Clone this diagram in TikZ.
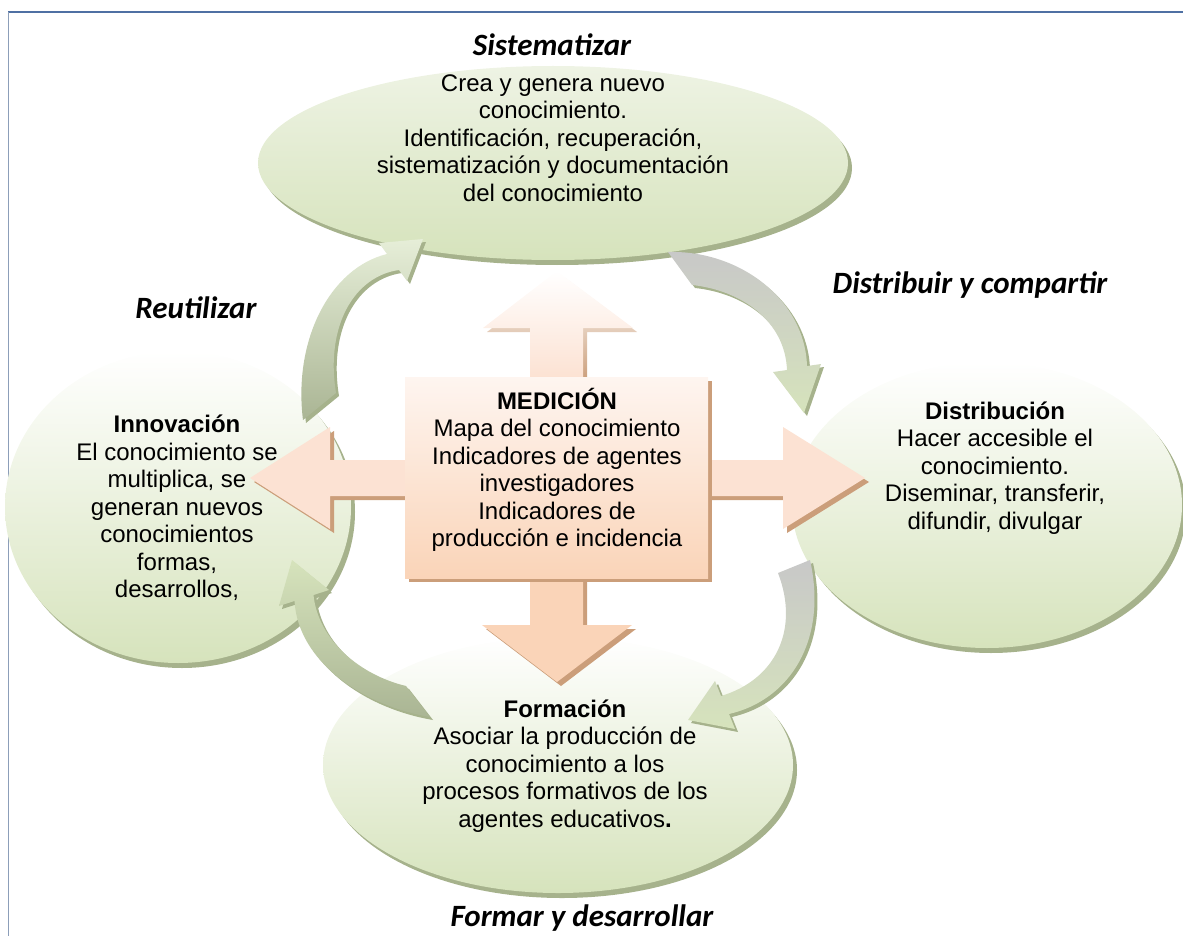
\documentclass[tikz,border=0pt]{standalone}
\usepackage{fontspec}
\setmainfont{Liberation Sans}
\newfontfamily\phasefont{Carlito}
\usetikzlibrary{shapes.geometric,shadows}
\definecolor{leafGreen}{RGB}{214,227,188}
\definecolor{leafShadow}{RGB}{166,178,140}
\definecolor{sisTop}{RGB}{238,243,228}
\definecolor{darkLeaf}{RGB}{170,181,148}
\definecolor{paleLeaf}{RGB}{230,238,216}
\definecolor{greyArrow}{RGB}{200,200,200}
\definecolor{peachTop}{RGB}{254,245,240}
\definecolor{peachBottom}{RGB}{250,212,184}
\definecolor{peachArm}{RGB}{252,226,211}
\definecolor{peachShadow}{RGB}{203,158,122}
\definecolor{frameBlue}{RGB}{79,112,163}
\definecolor{frameGrey}{RGB}{140,158,185}

\begin{document}
\begin{tikzpicture}[x=1pt,y=-1pt,
  bubble/.style={ellipse,inner sep=0pt,top color=white,bottom color=leafGreen,
    general shadow={fill=leafShadow,shadow xshift=4pt,shadow yshift=-5pt}},
  cyclearrow/.style={general shadow={fill=leafShadow,shadow xshift=3pt,shadow yshift=-3pt}},
  crossarm/.style={fill=peachArm,
    general shadow={fill=peachShadow,shadow xshift=4pt,shadow yshift=-4pt}},
  medbox/.style={rectangle,inner sep=0pt,top color=peachTop,bottom color=peachBottom,
    general shadow={fill=peachShadow,shadow xshift=4pt,shadow yshift=-4pt}},
  bodytext/.style={align=center,font=\fontsize{24}{27.5}\selectfont},
  phasetext/.style={font=\phasefont\fontsize{31}{36}\selectfont\bfseries\itshape}]
%
  \useasboundingbox (0,0) rectangle (1183,936) ;
  \draw [frameBlue,line width=1.2pt] (8,12) -- (1183,12) ;
  \draw [frameGrey,line width=1pt] (8,12) -- (8,936) ;
%
  \node [bubble,top color=sisTop,minimum width=590pt,minimum height=194pt] (sisE) at (553,163) {} ;
  \node [bubble,minimum width=346pt,minimum height=312pt] (innE) at (178,507) {} ;
  \node [bubble,minimum width=390pt,minimum height=286pt] (disE) at (987,505) {} ;
  \node [bubble,minimum width=470pt,minimum height=256pt] (forE) at (558,765) {} ;
%
  \shade [cyclearrow,top color=paleLeaf,bottom color=darkLeaf]
    (303,420) .. controls (293,340) and (330,268) .. (387,254) -- (379,243) -- (423,239)
    -- (407,281) -- (399,270) .. controls (355,276) and (325,325) .. (336,393) -- cycle ;
  \shade [cyclearrow,top color=greyArrow,bottom color=leafGreen]
    (668,252) .. controls (740,250) and (805,300) .. (807,366) -- (821,364) -- (804,413)
    -- (773,372) -- (787,370) .. controls (785,320) and (740,290) .. (692,285) -- cycle ;
  \shade [cyclearrow,top color=greyArrow,bottom color=leafGreen]
    (810,560) .. controls (828,640) and (790,700) .. (729,714) -- (735,729) -- (688,720)
    -- (715,681) -- (721,696) .. controls (775,680) and (800,630) .. (778,573) -- cycle ;
  \shade [cyclearrow,top color=leafGreen,bottom color=darkLeaf]
    (430,717) .. controls (360,705) and (298,660) .. (294.5,601) -- (279,606) -- (292,560)
    -- (329,590) -- (313.5,595) .. controls (318,640) and (360,675) .. (406,686) -- cycle ;
%
  \shade [top color=white,bottom color=peachShadow,shift={(4,4)}] (530,377) -- (530,328) -- (483,328)
    -- (557,271) -- (633,328) -- (583,328) -- (583,377) -- cycle ;
  \shade [top color=white,bottom color=peachArm] (530,377) -- (530,328) -- (483,328)
    -- (557,271) -- (633,328) -- (583,328) -- (583,377) -- cycle ;
  \fill [crossarm,fill=peachBottom] (530,578) -- (530,625) -- (482,625) -- (557,682)
    -- (632,625) -- (583,625) -- (583,578) -- cycle ;
  \fill [crossarm] (405,460) -- (330,460) -- (330,427) -- (250,478)
    -- (330,529) -- (330,496) -- (405,496) -- cycle ;
  \fill [crossarm] (708,460) -- (783,460) -- (783,427) -- (865,478)
    -- (783,529) -- (783,496) -- (708,496) -- cycle ;
  \node [medbox,minimum width=303pt,minimum height=201pt] (med) at (556.5,477.5) {} ;
%
  \node [bodytext] (sisT) at (553,138) {Crea y genera nuevo\\conocimiento.\\Identificación, recuperación,\\sistematización y documentación\\del conocimiento} ;
  \node [bodytext] (medT) at (557,470) {\textbf{MEDICIÓN}\\Mapa del conocimiento\\Indicadores de agentes\\investigadores\\Indicadores de\\producción e incidencia} ;
  \node [bodytext] (innT) at (177,508) {\textbf{Innovación}\\El conocimiento se\\multiplica, se\\generan nuevos\\conocimientos\\formas,\\desarrollos,} ;
  \node [bodytext] (disT) at (995,468) {\textbf{Distribución}\\Hacer accesible el\\conocimiento.\\Diseminar, transferir,\\difundir, divulgar} ;
  \node [bodytext] (forT) at (565,766) {\textbf{Formación}\\Asociar la producción de\\conocimiento a los\\procesos formativos de los\\agentes educativos\textbf{.}} ;
%
  \node [phasetext] (sisP) at (552,45) {Sistematizar} ;
  \node [phasetext] (reuP) at (196,308) {Reutilizar} ;
  \node [phasetext] (disP) at (970,285) {Distribuir y compartir} ;
  \node [phasetext] (forP) at (582,918) {Formar y desarrollar} ;

\end{tikzpicture}
\end{document}
